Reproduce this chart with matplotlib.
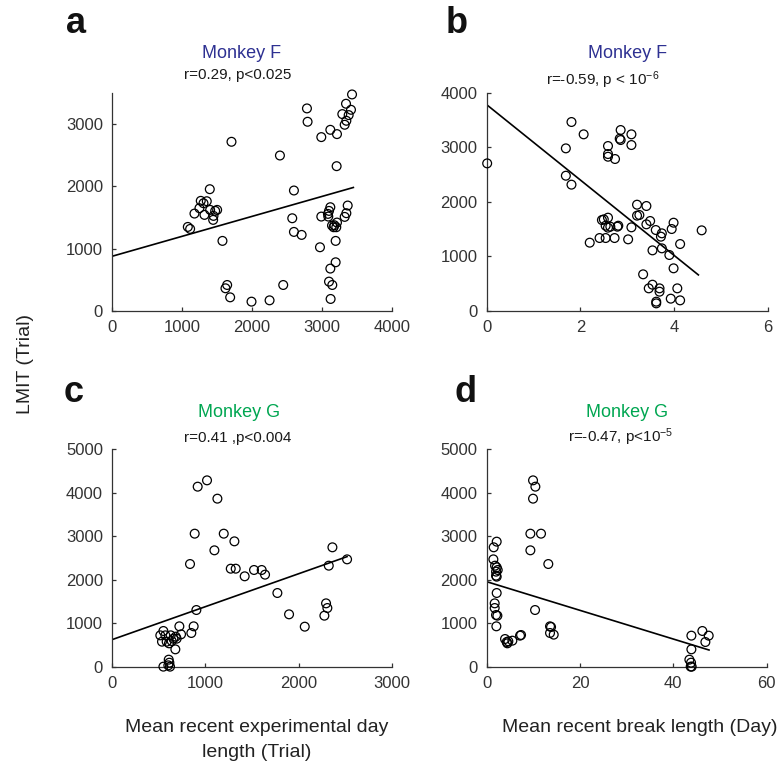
import matplotlib
matplotlib.use("Agg")
import matplotlib.pyplot as plt
import numpy as np

plt.rcParams['font.family'] = ['Liberation Sans', 'DejaVu Sans']
plt.rcParams['mathtext.fontset'] = 'custom'
plt.rcParams['mathtext.rm'] = 'Liberation Sans'
plt.rcParams['mathtext.it'] = 'Liberation Sans'

# ---------------- data ----------------
# Panel a: Monkey F, mean recent experimental day length vs LMIT
a_x = [3429, 3343, 2785, 3290, 3414, 3381, 3348, 3324, 2794, 3119, 2990, 3214,
       1707, 2399, 3209, 1397, 2599, 1268, 1354, 1307, 1249, 1178, 1402, 1474,
       1502, 1321, 1450, 1445, 1083, 1116, 1578, 2575, 2599, 2709, 2971, 2990,
       3085, 3119, 3100, 3090, 3367, 3348, 3324, 3214, 3143, 3166, 3204, 3176,
       3195, 3195, 3119, 3100, 3147, 3123, 2446, 1645, 1621, 1688, 1993, 2251]
a_y = [3472, 3323, 3248, 3157, 3226, 3141, 3050, 2986, 3034, 2905, 2788, 2836,
       2713, 2493, 2322, 1953, 1932, 1766, 1760, 1728, 1648, 1562, 1621, 1605,
       1621, 1541, 1525, 1461, 1348, 1316, 1124, 1487, 1268, 1220, 1022, 1514,
       1557, 1664, 1605, 1514, 1691, 1568, 1509, 1418, 1370, 1343, 1343, 1375,
       1124, 781, 680, 471, 417, 193, 417, 417, 364, 219, 150, 171]
a_fit = [877, 0.320, 3448]      # intercept, slope, x end

# Panel b: Monkey F, mean recent break length vs LMIT
b_x = [0.01, 1.81, 2.07, 1.69, 1.69, 1.81, 2.86, 2.86, 2.84, 3.09, 3.09, 2.59,
       2.59, 2.59, 2.74, 3.21, 3.41, 3.21, 3.26, 3.49, 3.41, 2.46, 2.50, 2.59,
       2.54, 2.59, 2.79, 2.81, 2.64, 3.09, 2.20, 2.41, 2.54, 2.73, 3.02, 3.61,
       3.74, 3.72, 3.99, 3.95, 4.59, 4.13, 3.54, 3.74, 3.90, 3.99, 3.34, 3.54,
       3.46, 3.69, 3.69, 4.07, 3.62, 3.62, 3.93, 4.13]
b_y = [2705, 3463, 3237, 2980, 2479, 2315, 3316, 3133, 3157, 3237, 3041, 3023,
       2876, 2827, 2785, 1948, 1924, 1747, 1759, 1649, 1588, 1667, 1679, 1710,
       1563, 1527, 1545, 1563, 1545, 1533, 1252, 1337, 1337, 1337, 1313, 1484,
       1423, 1362, 1618, 1502, 1478, 1227, 1111, 1148, 1026, 782, 672, 482,
       415, 415, 354, 415, 171, 140, 226, 195]
b_fit = [3780, -690, 4.52]

# Panel c: Monkey G, mean recent experimental day length vs LMIT
c_x = [1017, 917, 1128, 885, 1196, 1310, 1096, 2359, 2516, 2320, 835, 1271,
       1324, 1420, 1520, 1602, 1638, 1770, 1895, 2063, 2291, 2305, 2273, 903,
       721, 874, 849, 739, 550, 517, 571, 628, 682, 657, 535, 585, 639, 692,
       610, 678, 607, 614, 550, 621, 603]
c_y = [4281, 4136, 3861, 3058, 3058, 2882, 2676, 2745, 2469, 2324, 2362, 2255,
       2255, 2080, 2225, 2225, 2118, 1697, 1208, 925, 1460, 1353, 1177, 1307,
       933, 933, 780, 749, 826, 726, 726, 726, 696, 650, 581, 581, 596, 650,
       543, 405, 168, 99, 8, 8, 38]
c_fit = [627, 0.757, 2516]

# Panel d: Monkey G, mean recent break length vs LMIT
d_x = [9.93, 10.43, 9.93, 9.36, 11.64, 9.36, 13.2, 10.36, 2.14, 1.5, 1.43,
       1.79, 2.14, 2.36, 2.0, 2.0, 2.14, 2.14, 1.71, 1.71, 2.0, 2.29, 2.07,
       3.93, 4.29, 4.64, 4.43, 5.5, 7.14, 7.36, 13.57, 13.79, 13.57, 14.36,
       43.86, 46.21, 47.57, 46.86, 43.86, 43.43, 43.79, 43.71, 43.93]
d_y = [4281, 4136, 3861, 3058, 3058, 2676, 2362, 1307, 2875, 2745, 2469, 2324,
       2286, 2225, 2187, 2095, 2072, 1697, 1460, 1353, 1193, 1177, 933, 642,
       573, 589, 543, 604, 719, 734, 933, 917, 780, 742, 719, 826, 719, 573,
       405, 168, 99, 8, 8]
d_fit = [1957, -32.9, 47.64]

xticks_a = [0, 1000, 2000, 3000, 4000]
yticks_a = [0, 1000, 2000, 3000]
xticks_b = [0, 2, 4, 6]
yticks_b = [0, 1000, 2000, 3000, 4000]
xticks_c = [0, 1000, 2000, 3000]
yticks_c = [0, 1000, 2000, 3000, 4000, 5000]
xticks_d = [0, 20, 40, 60]
yticks_d = [0, 1000, 2000, 3000, 4000, 5000]

titles = ["Monkey F", "Monkey F", "Monkey G", "Monkey G"]
stats = ["r=0.29, p<0.025",
         r"r=-0.59, p < 10$^{\mathregular{-6}}$",
         "r=0.41 ,p<0.004",
         r"r=-0.47, p<10$^{\mathregular{-5}}$"]
letters = ["a", "b", "c", "d"]

# ---------------- figure ----------------
W, H = 778, 761
fig = plt.figure(figsize=(W / 100, H / 100), dpi=100)


def fx(x):
    return x / W


def fy(y):
    return 1 - y / H


GRAY = '#333333'
BLUE = '#2e3192'
GREEN = '#00a651'

panels = [
    dict(rect=(112, 92.7, 392, 311), x=a_x, y=a_y, fit=a_fit, xt=xticks_a, yt=yticks_a,
         xl=(0, 4000), yl=(0, 3500), col=BLUE, title_xy=(242, 58), stat_xy=(238, 79),
         let_xy=(66, 33)),
    dict(rect=(486.7, 92.7, 767.7, 311), x=b_x, y=b_y, fit=b_fit, xt=xticks_b, yt=yticks_b,
         xl=(0, 6), yl=(0, 4000), col=BLUE, title_xy=(627.5, 58), stat_xy=(603, 85),
         let_xy=(446, 33)),
    dict(rect=(112, 449, 392.3, 667), x=c_x, y=c_y, fit=c_fit, xt=xticks_c, yt=yticks_c,
         xl=(0, 3000), yl=(0, 5000), col=GREEN, title_xy=(239, 417), stat_xy=(238, 442),
         let_xy=(64, 402)),
    dict(rect=(486.7, 449, 766.7, 667), x=d_x, y=d_y, fit=d_fit, xt=xticks_d, yt=yticks_d,
         xl=(0, 60), yl=(0, 5000), col=GREEN, title_xy=(627, 417), stat_xy=(621, 442),
         let_xy=(455, 402)),
]

for i, p in enumerate(panels):
    l, t, r, b = p['rect']
    ax = fig.add_axes([fx(l), fy(b), (r - l) / W, (b - t) / H])
    ax.scatter(p['x'], p['y'], s=40, facecolors='none', edgecolors='black',
               linewidths=0.9, zorder=3, clip_on=False)
    a0, s0, xe = p['fit']
    xs = np.array([0.0, xe])
    ax.plot(xs, a0 + s0 * xs, color='black', lw=1.2, zorder=2)
    ax.set_xlim(*p['xl'])
    ax.set_ylim(*p['yl'])
    ax.set_xticks(p['xt'])
    ax.set_yticks(p['yt'])
    ax.set_xticklabels([str(v) for v in p['xt']])
    ax.set_yticklabels([str(v) for v in p['yt']])
    for s in ['top', 'right']:
        ax.spines[s].set_visible(False)
    for s in ['left', 'bottom']:
        ax.spines[s].set_color(GRAY)
        ax.spines[s].set_linewidth(0.9)
    ax.tick_params(direction='in', length=3, width=0.9, colors=GRAY,
                   labelsize=12, pad=6.5)
    ax.patch.set_alpha(0)

    tx, ty = p['title_xy']
    fig.text(fx(tx), fy(ty), titles[i], color=p['col'], fontsize=13,
             ha='center', va='baseline')
    sx, sy = p['stat_xy']
    fig.text(fx(sx), fy(sy), stats[i], color='#1a1a1a', fontsize=11,
             ha='center', va='baseline')
    lx, ly = p['let_xy']
    fig.text(fx(lx), fy(ly), letters[i], color='#111111', fontsize=26,
             fontweight='bold', ha='left', va='baseline')

fig.text(fx(25), fy(364), "LMIT (Trial)", rotation=90, fontsize=14,
         color='#222222', ha='center', va='center')
fig.text(fx(257), fy(732), "Mean recent experimental day", fontsize=14,
         color='#222222', ha='center', va='baseline')
fig.text(fx(257), fy(757), "length (Trial)", fontsize=14,
         color='#222222', ha='center', va='baseline')
fig.text(fx(640), fy(732), "Mean recent break length (Day)", fontsize=14,
         color='#222222', ha='center', va='baseline')

fig.savefig("out.png", dpi=100)
